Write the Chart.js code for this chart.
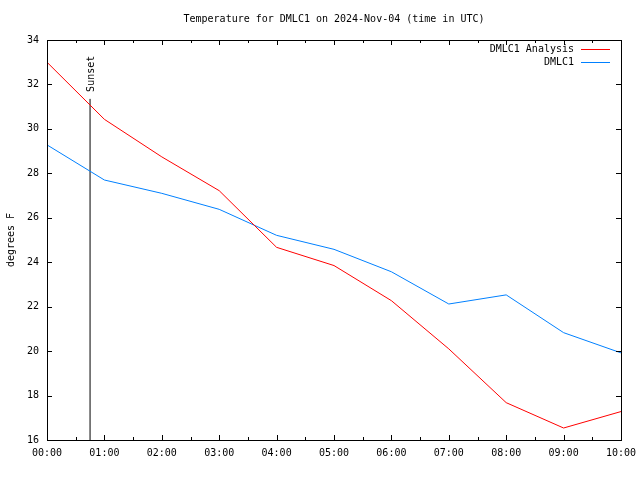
<!DOCTYPE html>
<html>
<head>
<meta charset="utf-8">
<script src="https://cdn.jsdelivr.net/npm/chart.js@4"></script>
<style>
  html, body { margin: 0; padding: 0; background: #fff; }
  canvas { display: block; }
</style>
</head>
<body>
<canvas id="tempChart" width="640" height="480"></canvas>
<script>
// hours after 00:00 UTC
const hours = [0, 1, 2, 3, 4, 5, 6, 7, 8, 9, 10];
const analysisTemps = [33.0, 30.43, 28.74, 27.22, 24.67, 23.85, 22.27, 20.1, 17.68, 16.54, 17.28];
const stationTemps = [29.28, 27.7, 27.1, 26.38, 25.21, 24.58, 23.57, 22.12, 22.53, 20.83, 19.92];
const yTicks = [16, 18, 20, 22, 24, 26, 28, 30, 32, 34];
const xTicks = [0, 1, 2, 3, 4, 5, 6, 7, 8, 9, 10];
const sunsetHour = 0.75;
const sunsetTop = 31.35;

const FONT = "10px 'DejaVu Sans Mono', monospace";

function hhmm(h) {
  return String(h).padStart(2, "0") + ":00";
}

// gnuplot-style frame, inward ticks, labels, legend
const gnuplotFrame = {
  id: "gnuplotFrame",
  afterDraw(chart) {
    const ctx = chart.ctx;
    const { left, right, top, bottom } = chart.chartArea;
    const xs = chart.scales.x;
    const ys = chart.scales.y;
    ctx.save();
    ctx.strokeStyle = "#000";
    ctx.fillStyle = "#000";
    ctx.lineWidth = 1;
    ctx.font = FONT;

    // frame
    ctx.strokeRect(Math.round(left) + 0.5, Math.round(top) + 0.5,
      Math.round(right - left), Math.round(bottom - top));

    // x ticks (major + half-hour minor), bottom and top
    ctx.beginPath();
    for (let h = 0; h <= 10; h += 0.5) {
      const px = Math.round(xs.getPixelForValue(h)) + 0.5;
      const len = Number.isInteger(h) ? 5 : 3;
      ctx.moveTo(px, bottom); ctx.lineTo(px, bottom - len);
      ctx.moveTo(px, top); ctx.lineTo(px, top + len);
    }
    // y ticks, left and right
    yTicks.forEach(v => {
      const py = Math.round(ys.getPixelForValue(v)) + 0.5;
      ctx.moveTo(left, py); ctx.lineTo(left + 5, py);
      ctx.moveTo(right, py); ctx.lineTo(right - 5, py);
    });
    ctx.stroke();

    // tick labels
    ctx.textAlign = "center";
    ctx.textBaseline = "middle";
    xTicks.forEach(h => {
      ctx.fillText(hhmm(h), xs.getPixelForValue(h), bottom + 13);
    });
    ctx.textAlign = "right";
    yTicks.forEach(v => {
      ctx.fillText(String(v), left - 8, ys.getPixelForValue(v));
    });

    // title
    ctx.textAlign = "center";
    ctx.fillText("Temperature for DMLC1 on 2024-Nov-04 (time in UTC)", (left + right) / 2, 19);

    // y axis title
    ctx.save();
    ctx.translate(11, (top + bottom) / 2);
    ctx.rotate(-Math.PI / 2);
    ctx.fillText("degrees F", 0, 0);
    ctx.restore();

    // sunset label
    ctx.save();
    ctx.translate(xs.getPixelForValue(sunsetHour) + 1, ys.getPixelForValue(sunsetTop) - 7);
    ctx.rotate(-Math.PI / 2);
    ctx.textAlign = "left";
    ctx.fillText("Sunset", 0, 0);
    ctx.restore();

    // legend
    chart.data.datasets.slice(0, 2).forEach((ds, i) => {
      const y = 49 + i * 13;
      ctx.textAlign = "right";
      ctx.fillStyle = "#000";
      ctx.fillText(ds.label, right - 47, y);
      ctx.strokeStyle = ds.borderColor;
      ctx.beginPath();
      ctx.moveTo(right - 40, y + 0.5);
      ctx.lineTo(right - 11, y + 0.5);
      ctx.stroke();
    });
    ctx.restore();
  },
};

new Chart(document.getElementById("tempChart"), {
  type: "line",
  data: {
    datasets: [
      {
        label: "DMLC1 Analysis",
        data: hours.map((h, i) => ({ x: h, y: analysisTemps[i] })),
        borderColor: "#ff0000",
        borderWidth: 1,
        pointRadius: 0,
        tension: 0,
      },
      {
        label: "DMLC1",
        data: hours.map((h, i) => ({ x: h, y: stationTemps[i] })),
        borderColor: "#0080ff",
        borderWidth: 1,
        pointRadius: 0,
        tension: 0,
      },
      {
        label: "Sunset",
        data: [{ x: sunsetHour, y: 16 }, { x: sunsetHour, y: sunsetTop }],
        borderColor: "#000000",
        borderWidth: 1,
        pointRadius: 0,
      },
    ],
  },
  options: {
    responsive: false,
    animation: false,
    events: [],
    layout: { padding: { left: 47, right: 19, top: 40, bottom: 40 } },
    plugins: {
      legend: { display: false },
      title: { display: false },
      tooltip: { enabled: false },
    },
    scales: {
      x: { type: "linear", min: 0, max: 10, display: false },
      y: { type: "linear", min: 16, max: 34, display: false },
    },
  },
  plugins: [gnuplotFrame],
});
</script>
</body>
</html>
